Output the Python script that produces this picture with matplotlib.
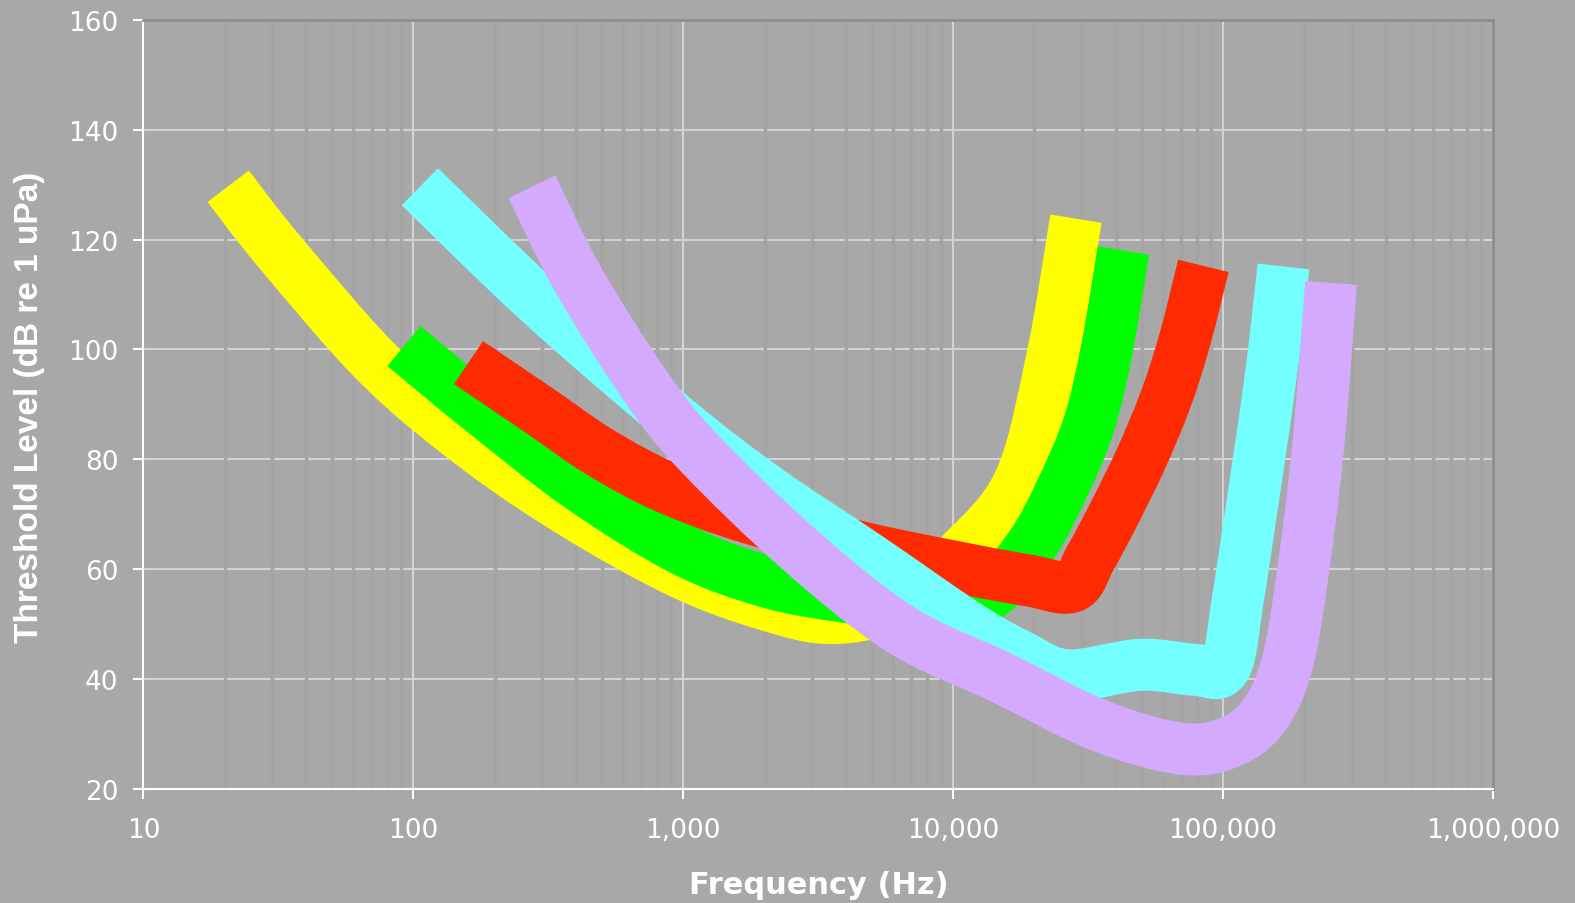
import matplotlib

matplotlib.use("Agg")
import matplotlib.pyplot as plt
import numpy as np
from matplotlib.patches import PathPatch
from matplotlib.path import Path
from matplotlib.ticker import FixedLocator, LogLocator, NullFormatter

# audiogramas (centro de cada faixa)
YELLOW_F = [20.6, 32.0, 75.2, 176.6, 414, 998, 2042, 3589, 6353, 10870, 17700, 23440, 28510]
YELLOW_DB = [129.7, 117.7, 97.0, 81.7, 69.5, 59.2, 53.5, 51.1, 54.0, 63.1, 76.2, 99.3, 123.8]

GREEN_F = [92.3, 176.6, 414, 998, 2042, 3811, 6918, 12790, 19270, 25290, 31850, 37150, 42760]
GREEN_DB = [100.6, 89.2, 75.1, 63.5, 57.7, 55.1, 53.8, 54.6, 64.0, 74.6, 86.4, 100.1, 118.0]

RED_F = [160, 294, 491, 871, 1766, 4634, 11250, 19270, 27540, 32140, 39090, 49650, 61400, 72270, 84560]
RED_DB = [97.6, 88.8, 81.3, 74.8, 69.3, 63.9, 60.0, 57.9, 56.8, 61.9, 69.7, 80.1, 91.0, 101.9, 115.2]

CYAN_F = [105.7, 294, 948, 2042, 4795, 11250, 17700, 26400, 49230, 78700, 101600, 113500, 125900,
          149300, 167500]
CYAN_DB = [129.6, 108.6, 87.0, 74.4, 62.2, 49.7, 44.2, 40.7, 42.6, 41.7, 42.2, 54.6, 69.1, 94.1, 115.1]

LAVENDER_F = [275, 407, 727, 1153, 2706, 6353, 14900, 34990, 71000, 107900, 142900, 172500, 196000,
              224700, 251200]
LAVENDER_DB = [129.6, 112.8, 93.2, 81.0, 63.5, 49.1, 40.4, 31.5, 27.3, 28.7, 33.6, 42.7, 58.2, 81.9, 112.1]

XTICKS = [10, 100, 1000, 10000, 100000, 1000000]
XTICK_LABELS = ["10", "100", "1,000", "10,000", "100,000", "1,000,000"]
YTICKS = [20, 40, 60, 80, 100, 120, 140, 160]

SERIES = [
    (YELLOW_F, YELLOW_DB, "#FFFF00"),
    (GREEN_F, GREEN_DB, "#00FF00"),
    (RED_F, RED_DB, "#FF2A00"),
    (CYAN_F, CYAN_DB, "#73FFFF"),
    (LAVENDER_F, LAVENDER_DB, "#D4AAFF"),
]

FUNDO = "#A8A8A8"
CLARO = "#D2D2D2"


def linha_suave(freq, db):
    """Curva passando pelos pontos (bezier tipo Catmull-Rom, como a linha suavizada do Excel)."""
    p = np.column_stack([np.log10(freq), db])
    verts = [p[0]]
    codes = [Path.MOVETO]
    for i in range(len(p) - 1):
        antes = p[i - 1] if i > 0 else p[i]
        depois = p[i + 2] if i + 2 < len(p) else p[i + 1]
        verts += [p[i] + (p[i + 1] - antes) / 6, p[i + 1] - (depois - p[i]) / 6, p[i + 1]]
        codes += [Path.CURVE4] * 3
    verts = np.array(verts)
    verts[:, 0] = 10 ** verts[:, 0]
    return Path(verts, codes)


fig = plt.figure(figsize=(15.75, 9.04), dpi=100, facecolor=FUNDO)
ax = fig.add_axes([0.0911, 0.1261, 0.8568, 0.8510], facecolor=FUNDO)

for f, db, cor in SERIES:
    ax.add_patch(PathPatch(linha_suave(f, db), fill=False, edgecolor=cor, lw=37.4,
                           capstyle="butt", joinstyle="round"))

ax.set_xscale("log")
ax.set_xlim(10, 1e6)
ax.set_ylim(20, 160)

ax.xaxis.set_major_locator(FixedLocator(XTICKS))
ax.set_xticklabels(XTICK_LABELS)
ax.xaxis.set_minor_locator(LogLocator(base=10, subs=range(2, 10)))
ax.xaxis.set_minor_formatter(NullFormatter())
ax.set_yticks(YTICKS)

# grade: horizontais por baixo, verticais menores por cima delas (cortam a linha)
ax.set_axisbelow(True)
ax.yaxis.set_zorder(0.3)
ax.xaxis.set_zorder(0.5)
ax.yaxis.grid(True, color=CLARO, lw=1.5)
ax.xaxis.grid(True, which="major", color=CLARO, lw=1.5)
ax.xaxis.grid(True, which="minor", color="#A4A4A4", lw=2.5)

ax.tick_params(which="major", direction="out", length=7, width=1.5, color="white",
               labelcolor="white", labelsize=19)
ax.tick_params(axis="y", pad=11)
ax.tick_params(axis="x", pad=13)
ax.tick_params(which="minor", length=0)

for lado in ("left", "bottom"):
    ax.spines[lado].set_color("white")
    ax.spines[lado].set_linewidth(1.5)
for lado in ("top", "right"):
    ax.spines[lado].set_color("#8C8C8C")
    ax.spines[lado].set_linewidth(2.0)

ax.set_xlabel("Frequency (Hz)", color="white", fontsize=22, fontweight="bold", va="baseline")
ax.xaxis.set_label_coords(0.5002, -0.1352)
ax.set_ylabel("Threshold Level (dB re 1 uPa)", color="white", fontsize=24, fontweight="bold",
              family="Liberation Sans", va="center")
ax.yaxis.set_label_coords(-0.0845, 0.4979)

fig.savefig("out.png", dpi=100, facecolor=FUNDO)
